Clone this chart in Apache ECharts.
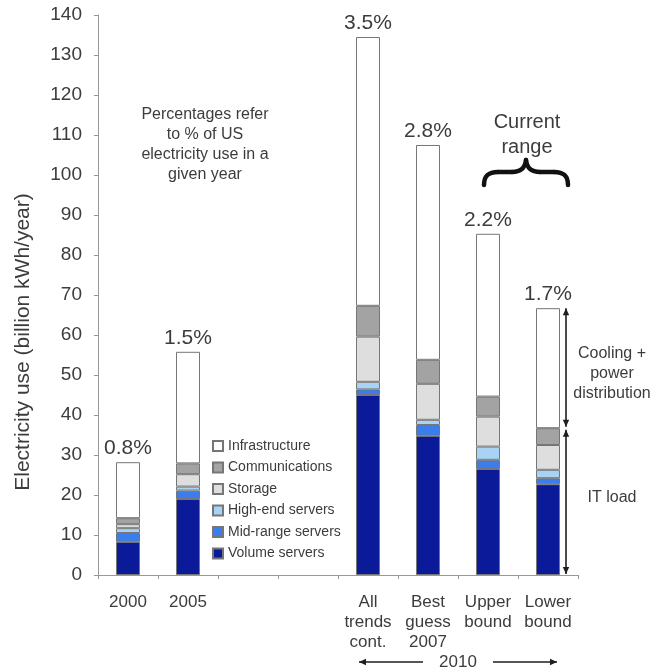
<!DOCTYPE html>
<html>
<head>
<meta charset="utf-8">
<script src="https://cdn.jsdelivr.net/npm/echarts@6/dist/echarts.min.js"></script>
<style>
html,body{margin:0;padding:0;background:#fff;}
#main{width:655px;height:669px;}
</style>
</head>
<body>
<div id="main"></div>
<script>
// ---- data ----
const categories = ['2000', '2005', '', ' ', 'All\ntrends\ncont.', 'Best\nguess\n2007', 'Upper\nbound', 'Lower\nbound'];
const volumeServers   = [8.3, 19.0, null, null, 45.0, 34.8, 26.5, 22.7];
const midRangeServers = [2.2, 2.1, null, null, 1.4, 2.7, 2.3, 1.5];
const highEndServers  = [1.2, 1.0, null, null, 1.9, 1.3, 3.3, 2.1];
const storage         = [1.0, 3.1, null, null, 11.3, 9.0, 7.5, 6.2];
const communications  = [1.5, 2.7, null, null, 7.7, 6.0, 5.0, 4.2];
const infrastructure  = [14.0, 27.9, null, null, 67.2, 53.7, 40.7, 30.0];
const pctLabels = ['0.8%', '1.5%', '', '', '3.5%', '2.8%', '2.2%', '1.7%'];
const yMin = 0, yMax = 140, yStep = 10;

// ---- chart ----
const FONT = '"Liberation Sans", Arial, sans-serif';
const TXT = '#3c3c3c';
const chart = echarts.init(document.getElementById('main'), null, {renderer: 'canvas'});

function seg(name, data, color, extra) {
  return Object.assign({
    name: name, type: 'bar', stack: 'total', data: data, barWidth: 24,
    itemStyle: {color: color, borderColor: '#767676', borderWidth: 1},
    emphasis: {disabled: true}
  }, extra || {});
}

const option = {
  backgroundColor: '#ffffff',
  animation: false,
  textStyle: {fontFamily: FONT},
  grid: {left: 98, right: 77, top: 15, bottom: 94},
  legend: {
    orient: 'vertical', left: 207, top: 434,
    itemWidth: 10, itemHeight: 10, itemGap: 7.5,
    icon: 'rect',
    textStyle: {fontSize: 14, color: TXT, fontFamily: FONT, lineHeight: 14},
    data: ['Infrastructure', 'Communications', 'Storage', 'High-end servers', 'Mid-range servers', 'Volume servers'],
    selectedMode: false
  },
  xAxis: {
    type: 'category', data: categories,
    axisLine: {lineStyle: {color: '#999', width: 1}},
    axisTick: {show: true, length: 4, lineStyle: {color: '#999'}},
    axisLabel: {interval: 0, margin: 17, fontSize: 17, lineHeight: 20, color: TXT, fontFamily: FONT}
  },
  yAxis: {
    type: 'value', min: yMin, max: yMax, interval: yStep,
    name: 'Electricity use (billion kWh/year)', nameLocation: 'middle', nameGap: 64,
    nameTextStyle: {fontSize: 21, color: TXT, fontFamily: FONT, padding: [0, 94, 0, 0]},
    axisLine: {show: true, lineStyle: {color: '#999', width: 1}},
    axisTick: {show: true, length: 4, lineStyle: {color: '#999'}},
    splitLine: {show: false},
    axisLabel: {margin: 16, fontSize: 19, color: TXT, fontFamily: FONT}
  },
  series: [
    seg('Volume servers', volumeServers, '#0b1a98'),
    seg('Mid-range servers', midRangeServers, '#3b7ded'),
    seg('High-end servers', highEndServers, '#a9d3f5'),
    seg('Storage', storage, '#dedede'),
    seg('Communications', communications, '#a3a3a3'),
    seg('Infrastructure', infrastructure, '#ffffff', {
      label: {show: true, position: 'top', distance: 3, fontSize: 21, color: TXT, fontFamily: FONT,
        formatter: function (p) { return pctLabels[p.dataIndex]; }}
    })
  ]
};
chart.setOption(option);

// ---- annotations positioned through the chart's own scales ----
function arrow(x1, y1, x2, y2, both) {
  const els = [];
  const col = '#1e1e1e';
  els.push({type: 'line', shape: {x1: x1, y1: y1, x2: x2, y2: y2}, style: {stroke: col, lineWidth: 1.6}, silent: true});
  function head(xa, ya, xb, yb) {
    const ang = Math.atan2(yb - ya, xb - xa);
    const L = 7, W = 3.2;
    const bx = xb - L * Math.cos(ang), by = yb - L * Math.sin(ang);
    const px = -Math.sin(ang) * W, py = Math.cos(ang) * W;
    els.push({type: 'polygon', shape: {points: [[xb, yb], [bx + px, by + py], [bx - px, by - py]]}, style: {fill: col}, silent: true});
  }
  head(x1, y1, x2, y2);
  if (both) head(x2, y2, x1, y1);
  return els;
}

const lastIdx = categories.length - 1;
const xLower = chart.convertToPixel({xAxisIndex: 0}, lastIdx);
const xFirst2010 = chart.convertToPixel({xAxisIndex: 0}, 4);
const itLower = volumeServers[lastIdx] + midRangeServers[lastIdx] + highEndServers[lastIdx] + storage[lastIdx] + communications[lastIdx];
const totLower = itLower + infrastructure[lastIdx];
const yTot = chart.convertToPixel({yAxisIndex: 0}, totLower);
const yIT = chart.convertToPixel({yAxisIndex: 0}, itLower);
const y0 = chart.convertToPixel({yAxisIndex: 0}, 0);
const ax = xLower + 18;

let g = [];
g = g.concat(arrow(ax, yIT - 1.5, ax, yTot, true));
g = g.concat(arrow(ax, yIT + 1.5, ax, y0 - 1, true));
g.push({type: 'text', x: 612, y: (yTot + yIT) / 2 + 5, silent: true,
  style: {text: 'Cooling +\npower\ndistribution', fontSize: 16, lineHeight: 20, fill: TXT, font: '16px ' + FONT, align: 'center', verticalAlign: 'middle'}});
g.push({type: 'text', x: 612, y: (yIT + y0) / 2 - 4, silent: true,
  style: {text: 'IT load', fontSize: 16, fill: TXT, font: '16px ' + FONT, align: 'center', verticalAlign: 'middle'}});
g.push({type: 'text', x: 205, y: 145, silent: true,
  style: {text: 'Percentages refer\nto % of US\nelectricity use in a\ngiven year', fontSize: 16, lineHeight: 20, fill: TXT, font: '16px ' + FONT, align: 'center', verticalAlign: 'middle'}});
g.push({type: 'text', x: 527, y: 134.5, silent: true,
  style: {text: 'Current\nrange', fontSize: 20, lineHeight: 25, fill: TXT, font: '20px ' + FONT, align: 'center', verticalAlign: 'middle'}});
// curly brace built from bezier curves and lines
const braceStyle = {fill: 'none', stroke: '#111', lineWidth: 4.5, lineCap: 'round', lineJoin: 'round'};
const bz = [
  [484, 185, 484, 176, 488, 172, 498, 172],
  [512, 172, 521, 172, 525, 168, 526, 160],
  [526, 160, 527, 168, 531, 172, 540, 172],
  [554, 172, 564, 172, 568, 176, 568, 185]
];
bz.forEach(function (c) {
  g.push({type: 'bezierCurve', silent: true,
    shape: {x1: c[0], y1: c[1], cpx1: c[2], cpy1: c[3], cpx2: c[4], cpy2: c[5], x2: c[6], y2: c[7]},
    style: braceStyle});
});
g.push({type: 'line', silent: true, shape: {x1: 498, y1: 172, x2: 512, y2: 172}, style: braceStyle});
g.push({type: 'line', silent: true, shape: {x1: 540, y1: 172, x2: 554, y2: 172}, style: braceStyle});
// 2010 range below axis
const yb = 662;
g = g.concat(arrow(423, yb, xFirst2010 - 9, yb, false));
g = g.concat(arrow(493, yb, xLower + 9, yb, false));
g.push({type: 'text', x: 458, y: yb, silent: true,
  style: {text: '2010', fontSize: 17, fill: TXT, font: '17px ' + FONT, align: 'center', verticalAlign: 'middle'}});

chart.setOption({graphic: g});
</script>
</body>
</html>
